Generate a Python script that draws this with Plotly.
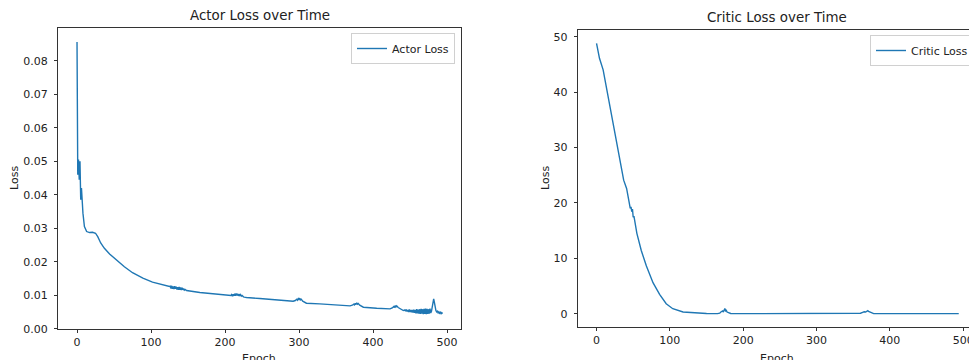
import plotly.graph_objects as go

# ---------------- data ----------------
actor_epoch = [0, 1, 2, 3, 4, 5, 6, 7, 8, 10, 13, 17, 21, 25, 28, 32, 37, 44, 53, 64, 75, 89, 102, 116, 125,
               126, 127, 128, 129, 130, 131, 132, 133, 134, 135, 136, 137, 138, 139, 140, 141, 142, 143, 144, 145, 146, 147, 148,
               166, 184, 202,
               208, 209, 210, 211, 212, 213, 214, 215, 216, 217, 218, 219, 220, 221, 222, 223, 224, 225, 226,
               229, 247, 270, 292,
               295, 297, 298, 299, 300, 301, 302, 303, 305, 307, 310,
               328, 346, 369,
               372, 374, 375, 376, 377, 378, 379, 380, 382, 385, 387,
               405, 423,
               426, 428, 429, 430, 431, 432, 434, 437, 441,
               443, 444, 445, 446, 447, 448, 449, 450, 451, 452, 453, 454, 455, 456, 457, 458, 459, 460,
               461, 462, 463, 464, 465, 466, 467, 468, 469, 470, 471, 472, 473, 474, 475, 476, 477, 478, 479,
               480, 481, 482, 483, 484, 485, 486, 487, 488, 489, 490, 491, 492, 493, 494]
actor_loss = [0.0856, 0.0460, 0.0505, 0.0445, 0.0500, 0.0385, 0.0420, 0.0350, 0.0345, 0.0305, 0.0290, 0.0287, 0.0288,
              0.0285, 0.0275, 0.0256, 0.0240, 0.0223, 0.0205, 0.0185, 0.0167, 0.0151, 0.0139, 0.0130, 0.0126,
              0.0127, 0.0120, 0.0128, 0.0119, 0.0126, 0.0118, 0.0127, 0.0119, 0.0125, 0.0117, 0.0124, 0.0116, 0.0125,
              0.0116, 0.0123, 0.0115, 0.0122, 0.0116, 0.0120, 0.0115, 0.0117, 0.0115, 0.0114,
              0.0108, 0.0104, 0.0100,
              0.0099, 0.0102, 0.0097, 0.0103, 0.0098, 0.0104, 0.0098, 0.0105, 0.0099, 0.0104, 0.0098, 0.0103, 0.0099,
              0.0102, 0.0097, 0.0099, 0.0096, 0.0095, 0.0094,
              0.0093, 0.0090, 0.0086, 0.0082,
              0.0084, 0.0088, 0.0085, 0.0090, 0.0087, 0.0091, 0.0086, 0.0088, 0.0082, 0.0079, 0.0076,
              0.0074, 0.0071, 0.0068,
              0.0070, 0.0073, 0.0071, 0.0076, 0.0072, 0.0077, 0.0073, 0.0075, 0.0070, 0.0066, 0.0064,
              0.0061, 0.0059,
              0.0062, 0.0066, 0.0063, 0.0069, 0.0065, 0.0068, 0.0063, 0.0058, 0.0054,
              0.0056, 0.0052, 0.0057, 0.0051, 0.0056, 0.0050, 0.0057, 0.0050, 0.0056, 0.0049, 0.0056, 0.0048, 0.0057,
              0.0047, 0.0056, 0.0046, 0.0058, 0.0046,
              0.0057, 0.0045, 0.0058, 0.0044, 0.0059, 0.0045, 0.0058, 0.0043, 0.0059, 0.0044, 0.0060, 0.0043, 0.0059,
              0.0044, 0.0058, 0.0045, 0.0060, 0.0047, 0.0052,
              0.0070, 0.0086, 0.0089, 0.0078, 0.0062, 0.0054, 0.0050, 0.0052, 0.0047, 0.0050, 0.0046, 0.0049, 0.0045,
              0.0048, 0.0045]

critic_epoch = [0, 4, 9, 14, 20, 27, 34, 37, 41, 45, 46, 47, 48, 49, 50, 51, 55, 61, 68, 77, 86, 95, 104, 118, 136,
                150, 165, 168, 170, 172, 173, 174, 175, 176, 177, 178, 180, 183, 220, 300, 355, 360, 363, 365, 367,
                369, 370, 371, 373, 375, 378, 420, 494]
critic_loss = [48.8, 46.1, 44.0, 40.4, 35.8, 30.8, 25.9, 24.1, 22.6, 20.0, 19.0, 19.3, 18.4, 18.9, 17.4, 17.6, 14.5,
               11.4, 8.6, 5.6, 3.5, 1.8, 0.9, 0.3, 0.08,
               0.03, 0.02, 0.1, 0.35, 0.5, 0.3, 0.6, 0.95, 0.5, 0.6, 0.3, 0.15, 0.04, 0.01, 0.01, 0.01, 0.08, 0.25,
               0.35, 0.3, 0.5, 0.55, 0.4, 0.3, 0.1, 0.02, 0.01, 0.01]

actor_ticks = [0.00, 0.01, 0.02, 0.03, 0.04, 0.05, 0.06, 0.07, 0.08]
critic_ticks = [0, 10, 20, 30, 40, 50]
epoch_ticks = [0, 100, 200, 300, 400, 500]

# ---------------- figure ----------------
W, H = 969, 360
FONT = "DejaVu Sans"
BLUE = "#1f77b4"
TXT = "#222222"


def px(v):
    return v / W


def py(v):
    return 1 - v / H


fig = go.Figure()
fig.add_trace(go.Scatter(x=actor_epoch, y=actor_loss, mode="lines", name="Actor Loss",
                         line=dict(color=BLUE, width=1.4), xaxis="x", yaxis="y", legend="legend"))
fig.add_trace(go.Scatter(x=critic_epoch, y=critic_loss, mode="lines", name="Critic Loss",
                         line=dict(color=BLUE, width=1.4), xaxis="x2", yaxis="y2", legend="legend2"))

axis_common = dict(showgrid=False, zeroline=False, showline=True, linecolor="#333333", linewidth=1,
                   ticks="outside", ticklen=3, tickwidth=1, tickcolor="#333333",
                   tickfont=dict(family=FONT, size=11, color=TXT))

fig.update_layout(
    width=W, height=H,
    margin=dict(l=0, r=0, t=0, b=0, autoexpand=False),
    paper_bgcolor="white", plot_bgcolor="white",
    font=dict(family=FONT, size=11, color=TXT),
    xaxis=dict(domain=[px(58), px(461)], range=[-25.7, 518.9], tickvals=epoch_ticks,
               anchor="y", mirror=True, **axis_common),
    yaxis=dict(domain=[py(329), py(28.3)], range=[-0.0001, 0.0897], tickvals=actor_ticks,
               tickformat=".2f", anchor="x", mirror=True, ticklabelstandoff=4, **axis_common),
    xaxis2=dict(domain=[px(577.7), 1.0], range=[-25.7, 508.0], tickvals=epoch_ticks,
                anchor="y2", mirror=True, ticklabeloverflow="allow", **axis_common),
    yaxis2=dict(domain=[py(327), py(30)], range=[-2.4, 51.2], tickvals=critic_ticks,
                anchor="x2", mirror=False, ticklabelstandoff=4, **axis_common),
    legend=dict(x=px(455), xanchor="right", y=py(33), yanchor="top",
                bgcolor="white", bordercolor="#d0d0d0", borderwidth=1,
                font=dict(family=FONT, size=11, color=TXT)),
    legend2=dict(x=px(870), xanchor="left", y=py(35), yanchor="top",
                 bgcolor="white", bordercolor="#d0d0d0", borderwidth=1,
                 font=dict(family=FONT, size=11, color=TXT)),
    showlegend=True,
    hovermode=False,
)

annots = [
    dict(text="Actor Loss over Time", x=px(259.5), y=py(16), size=13.4, angle=0),
    dict(text="Critic Loss over Time", x=px(777), y=py(17), size=13.4, angle=0),
    dict(text="Epoch", x=px(259), y=py(358), size=11, angle=0),
    dict(text="Epoch", x=px(777), y=py(358), size=11, angle=0),
    dict(text="Loss", x=px(14), y=py(178), size=11, angle=-90),
    dict(text="Loss", x=px(545), y=py(178), size=11, angle=-90),
]
for a in annots:
    fig.add_annotation(text=a["text"], x=a["x"], y=a["y"], xref="paper", yref="paper",
                       xanchor="center", yanchor="middle", showarrow=False, textangle=a["angle"],
                       font=dict(family=FONT, size=a["size"], color=TXT))

# remove the browser's default page margin and scrollbars so the figure fills the window
page_fix = ("document.documentElement.style.overflow='hidden';"
            "document.body.style.overflow='hidden';"
            "document.body.style.margin='0px';")

fig.write_html("out.html", post_script=page_fix, config={"displayModeBar": False})
